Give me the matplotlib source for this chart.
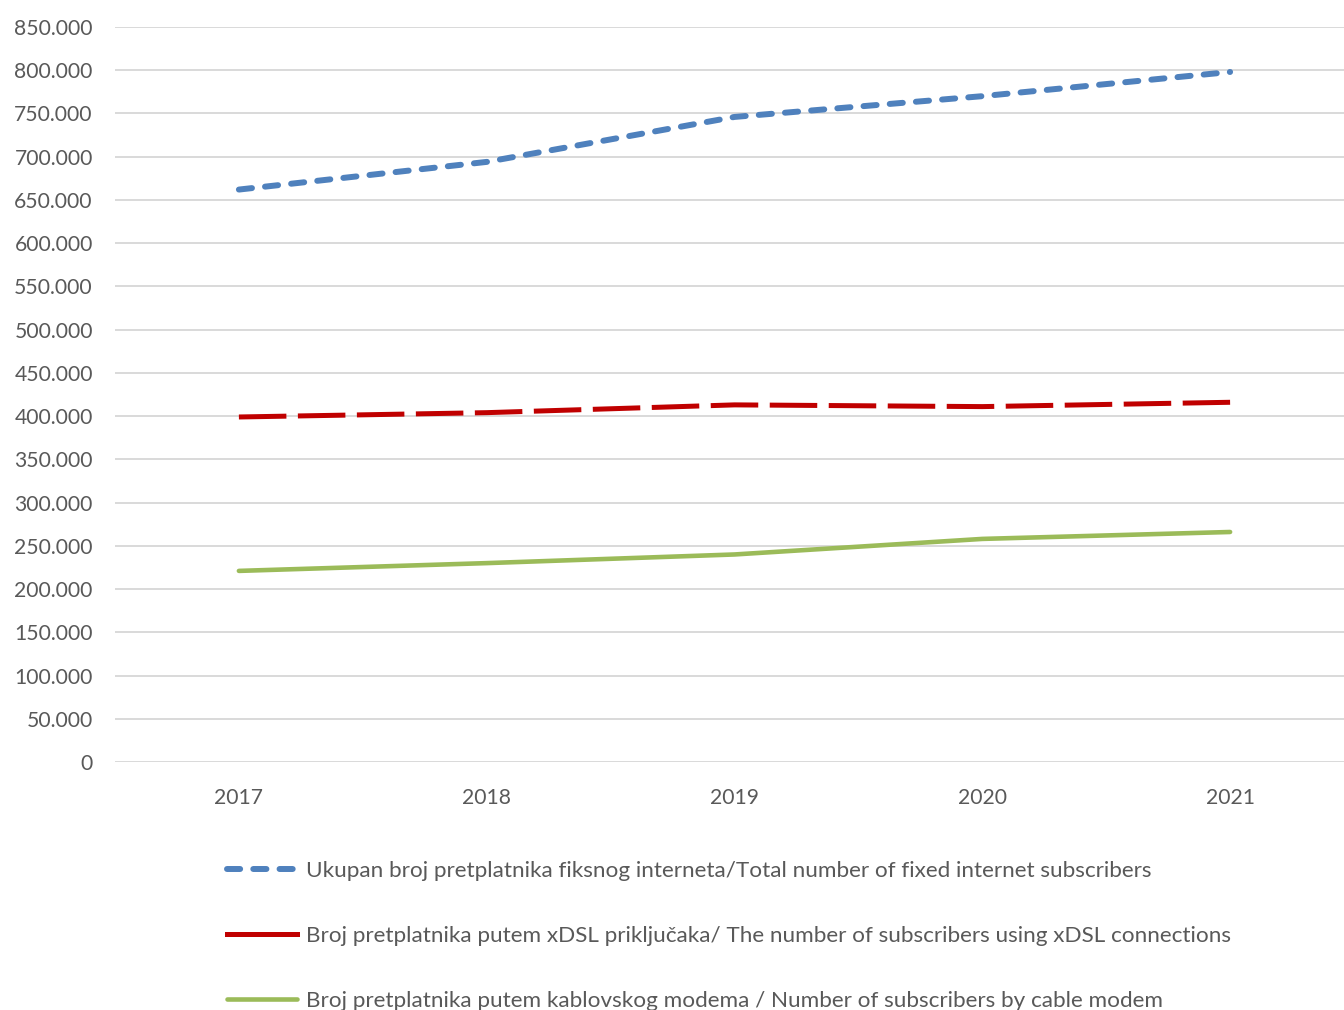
import matplotlib
matplotlib.use("Agg")
import matplotlib.pyplot as plt
from matplotlib.lines import Line2D
from matplotlib.ticker import FuncFormatter, MultipleLocator

plt.rcParams['font.family'] = ['Lato', 'DejaVu Sans']

# data
years = ['2017', '2018', '2019', '2020', '2021']
total = [662000, 694000, 746000, 770000, 798000]
xdsl = [399000, 404000, 413000, 411000, 416000]
cable = [221000, 230000, 240000, 258000, 266000]

labels = [
    'Ukupan broj pretplatnika fiksnog interneta/Total number of fixed internet subscribers',
    'Broj pretplatnika putem xDSL priključaka/ The number of subscribers using xDSL connections',
    'Broj pretplatnika putem kablovskog modema / Number of subscribers by cable modem',
]

text_col = '#595959'
grid_col = '#d9d9d9'

fig = plt.figure(figsize=(13.44, 10.10), dpi=100)
ax = fig.add_axes([115 / 1344, 1 - 762 / 1010, (1354 - 115) / 1344, (762 - 27) / 1010])

x = range(len(years))

# plot lines
ax.plot(x, total, color='#4f81bd', lw=4.3, dashes=(2.2, 2.2),
        dash_capstyle='round', solid_capstyle='round', zorder=3)
ax.plot(x, xdsl, color='#c00000', lw=3.6, dashes=(9.5, 2.3),
        dash_capstyle='butt', zorder=3)
ax.plot(x, cable, color='#9bbb59', lw=3.3, solid_capstyle='round', zorder=3)

# configure axes
ax.set_xlim(-0.5, len(years) - 0.5)
ax.set_ylim(0, 850000)
ax.yaxis.set_major_locator(MultipleLocator(50000))
ax.yaxis.set_major_formatter(FuncFormatter(lambda v, p: f"{int(v):,}".replace(',', '.')))
ax.set_xticks(list(x))
ax.set_xticklabels(years)
ax.grid(axis='y', color=grid_col, lw=1.4)
ax.set_axisbelow(True)
for s in ax.spines.values():
    s.set_visible(False)
ax.tick_params(axis='both', length=0, labelsize=15.2, labelcolor=text_col)
ax.tick_params(axis='y', pad=16)
ax.tick_params(axis='x', pad=19)

# legend
h1 = Line2D([], [], color='#4f81bd', lw=4.3, dashes=(2.2, 2.2), dash_capstyle='round')
h2 = Line2D([], [], color='#c00000', lw=3.6)
h3 = Line2D([], [], color='#9bbb59', lw=3.3, solid_capstyle='round')
fig.legend([h1, h2, h3], labels, loc='upper left',
           bbox_to_anchor=(227 / 1344, 1 - 861 / 1010), frameon=False,
           fontsize=16.2, labelcolor=text_col, handlelength=3.1,
           handletextpad=0.4, labelspacing=2.0, borderaxespad=0, borderpad=0)

fig.savefig('out.png', dpi=100)
